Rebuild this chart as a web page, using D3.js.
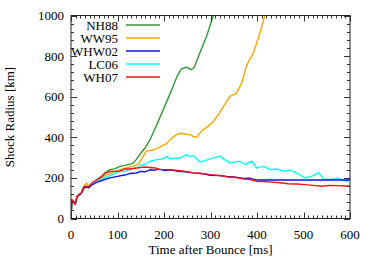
<!DOCTYPE html>
<html>
<head>
<meta charset="utf-8">
<script src="https://cdn.jsdelivr.net/npm/d3@7"></script>
<style>
  body { margin: 0; background: #fff; }
</style>
</head>
<body>
<svg id="chart"></svg>
<script>
// series names shown in legend
var names = ["NH88", "WW95", "WHW02", "LC06", "WH07"];
var colors = ["#339a33", "#ffa500", "#1010e0", "#00ffff", "#ff1010"];

var tNH88 = [0,2,5,9,13,18,22,28,33,38,45,55,65,73,84,95,105,116,127,134,140,148,160,170,185,200,215,228,238,249,259,265,277,292,306];
var rNH88 = [10,92,85,70,108,118,124,155,160,150,170,188,205,225,241,246,257,262,268,274,290,315,350,388,465,545,625,700,738,745,733,745,815,900,1000];

var tWW95 = [0,2,5,9,13,18,22,28,33,38,45,55,65,75,85,95,105,120,134,145,155,162,175,190,206,216,227,234,245,256,262,270,277,285,295,306,318,328,342,356,367,378,392,403,417];
var rWW95 = [10,90,85,70,108,118,126,160,175,160,172,186,198,212,222,232,240,250,258,268,305,333,336,350,370,395,413,420,416,413,405,400,421,438,455,478,515,552,602,618,667,757,815,889,1000];

var tWHW02 = [0,2,5,9,13,18,22,28,33,38,45,55,65,75,84,95,105,116,127,140,150,159,170,180,190,202,215,230,245,263,280,299,320,335,350,371,385,399,410,600];
var rWHW02 = [10,90,84,70,106,116,122,150,155,152,165,178,186,194,200,205,210,214,222,224,232,230,240,238,243,236,240,233,230,225,222,213,212,207,205,197,198,190,190,190];

var tLC06 = [0,2,5,9,13,18,22,28,33,38,45,55,62,75,90,105,116,130,140,150,159,170,185,198,206,213,234,249,256,263,277,288,299,320,330,342,363,374,389,399,414,428,442,457,471,485,503,518,532,543,561,571,582,593,600];
var rLC06 = [10,88,84,69,106,117,124,152,157,155,168,183,192,202,218,233,232,246,250,262,266,282,290,294,306,294,298,315,305,310,279,285,294,307,290,274,282,266,282,249,257,241,244,233,238,225,200,208,225,195,192,198,192,183,195];

var tWH07 = [0,2,5,9,13,18,22,28,33,38,45,55,62,75,85,105,116,127,140,159,181,191,213,234,250,263,280,299,320,335,350,371,385,399,415,432,450,467,485,503,520,539,555,575,590,600];
var rWH07 = [10,93,86,69,110,120,125,158,158,156,175,190,200,225,232,233,244,244,248,254,249,241,241,235,230,225,222,216,211,205,203,195,192,183,182,179,176,171,170,167,163,159,163,162,160,159];

var xTicks = [0, 100, 200, 300, 400, 500, 600];
var yTicks = [0, 200, 400, 600, 800, 1000];

var times = [tNH88, tWW95, tWHW02, tLC06, tWH07];
var radii = [rNH88, rWW95, rWHW02, rLC06, rWH07];

var w = 374, h = 262;
var padL = 71, padR = 350, padT = 15.5, padB = 218.5;
var font = "'Liberation Serif', 'Times New Roman', Times, serif";

var svg = d3.select("#chart").attr("width", w).attr("height", h)
  .attr("font-family", font);

var x = d3.scaleLinear().domain([0, 600]).range([padL, padR]);
var y = d3.scaleLinear().domain([0, 1000]).range([padB, padT]);

svg.append("clipPath").attr("id", "clip")
  .append("rect")
  .attr("x", padL).attr("y", padT)
  .attr("width", padR - padL).attr("height", padB - padT);

// curves
var line = d3.line()
  .x(function(d) { return x(d[0]); })
  .y(function(d) { return y(d[1]); });

// draw in order so red ends up on top like the original
var order = [0, 1, 3, 2, 4];
order.forEach(function(k) {
  var pts = times[k].map(function(t, i) { return [t, radii[k][i]]; });
  svg.append("path")
    .datum(pts)
    .attr("clip-path", "url(#clip)")
    .attr("fill", "none")
    .attr("stroke", colors[k])
    .attr("stroke-width", 1.4)
    .attr("stroke-linejoin", "round")
    .attr("d", line);
});

// ticks pointing inward on all sides
var minorX = d3.range(0, 601, 10).filter(function(v) { return v % 100 != 0; });
var minorY = d3.range(0, 1001, 40).filter(function(v) { return v % 200 != 0; });

var tickG = svg.append("g").attr("stroke", "#333").attr("stroke-width", 1);
xTicks.concat(minorX).forEach(function(v) {
  var len = xTicks.indexOf(v) >= 0 ? 6 : 3;
  var xx = Math.round(x(v)) + 0.5;
  tickG.append("line").attr("x1", xx).attr("x2", xx).attr("y1", padB).attr("y2", padB - len);
  tickG.append("line").attr("x1", xx).attr("x2", xx).attr("y1", padT).attr("y2", padT + len);
});
yTicks.concat(minorY).forEach(function(v) {
  var len = yTicks.indexOf(v) >= 0 ? 6 : 3;
  var yy = Math.round(y(v)) + 0.5;
  tickG.append("line").attr("x1", padL).attr("x2", padL + len).attr("y1", yy).attr("y2", yy);
  tickG.append("line").attr("x1", padR).attr("x2", padR - len).attr("y1", yy).attr("y2", yy);
});

svg.append("rect")
  .attr("x", padL).attr("y", padT)
  .attr("width", padR - padL).attr("height", padB - padT)
  .attr("fill", "none").attr("stroke", "#222").attr("stroke-width", 1);

// tick labels
svg.selectAll("text.xt").data(xTicks).enter().append("text")
  .attr("class", "xt")
  .attr("x", function(d) { return x(d); })
  .attr("y", 239)
  .attr("text-anchor", "middle")
  .attr("font-family", font)
  .attr("font-size", 13)
  .text(function(d) { return d; });

svg.selectAll("text.yt").data(yTicks).enter().append("text")
  .attr("class", "yt")
  .attr("x", 64)
  .attr("y", function(d) { return y(d) + 4.5; })
  .attr("text-anchor", "end")
  .attr("font-family", font)
  .attr("font-size", 13)
  .text(function(d) { return d; });

svg.append("text")
  .attr("x", (padL + padR) / 2)
  .attr("y", 254)
  .attr("text-anchor", "middle")
  .attr("font-family", font)
  .attr("font-size", 13)
  .text("Time after Bounce [ms]");

svg.append("text")
  .attr("transform", "translate(14," + ((padT + padB) / 2) + ") rotate(-90)")
  .attr("text-anchor", "middle")
  .attr("font-family", font)
  .attr("font-size", 13)
  .text("Shock Radius [km]");

// legend
names.forEach(function(n, i) {
  var yy = 25 + i * 13;
  svg.append("text")
    .attr("x", 118).attr("y", yy + 4.5)
    .attr("text-anchor", "end")
    .attr("font-family", font)
    .attr("font-size", 13)
    .text(n);
  svg.append("line")
    .attr("x1", 126).attr("x2", 160)
    .attr("y1", yy).attr("y2", yy)
    .attr("stroke", colors[i]).attr("stroke-width", 1.4);
});
</script>
</body>
</html>
